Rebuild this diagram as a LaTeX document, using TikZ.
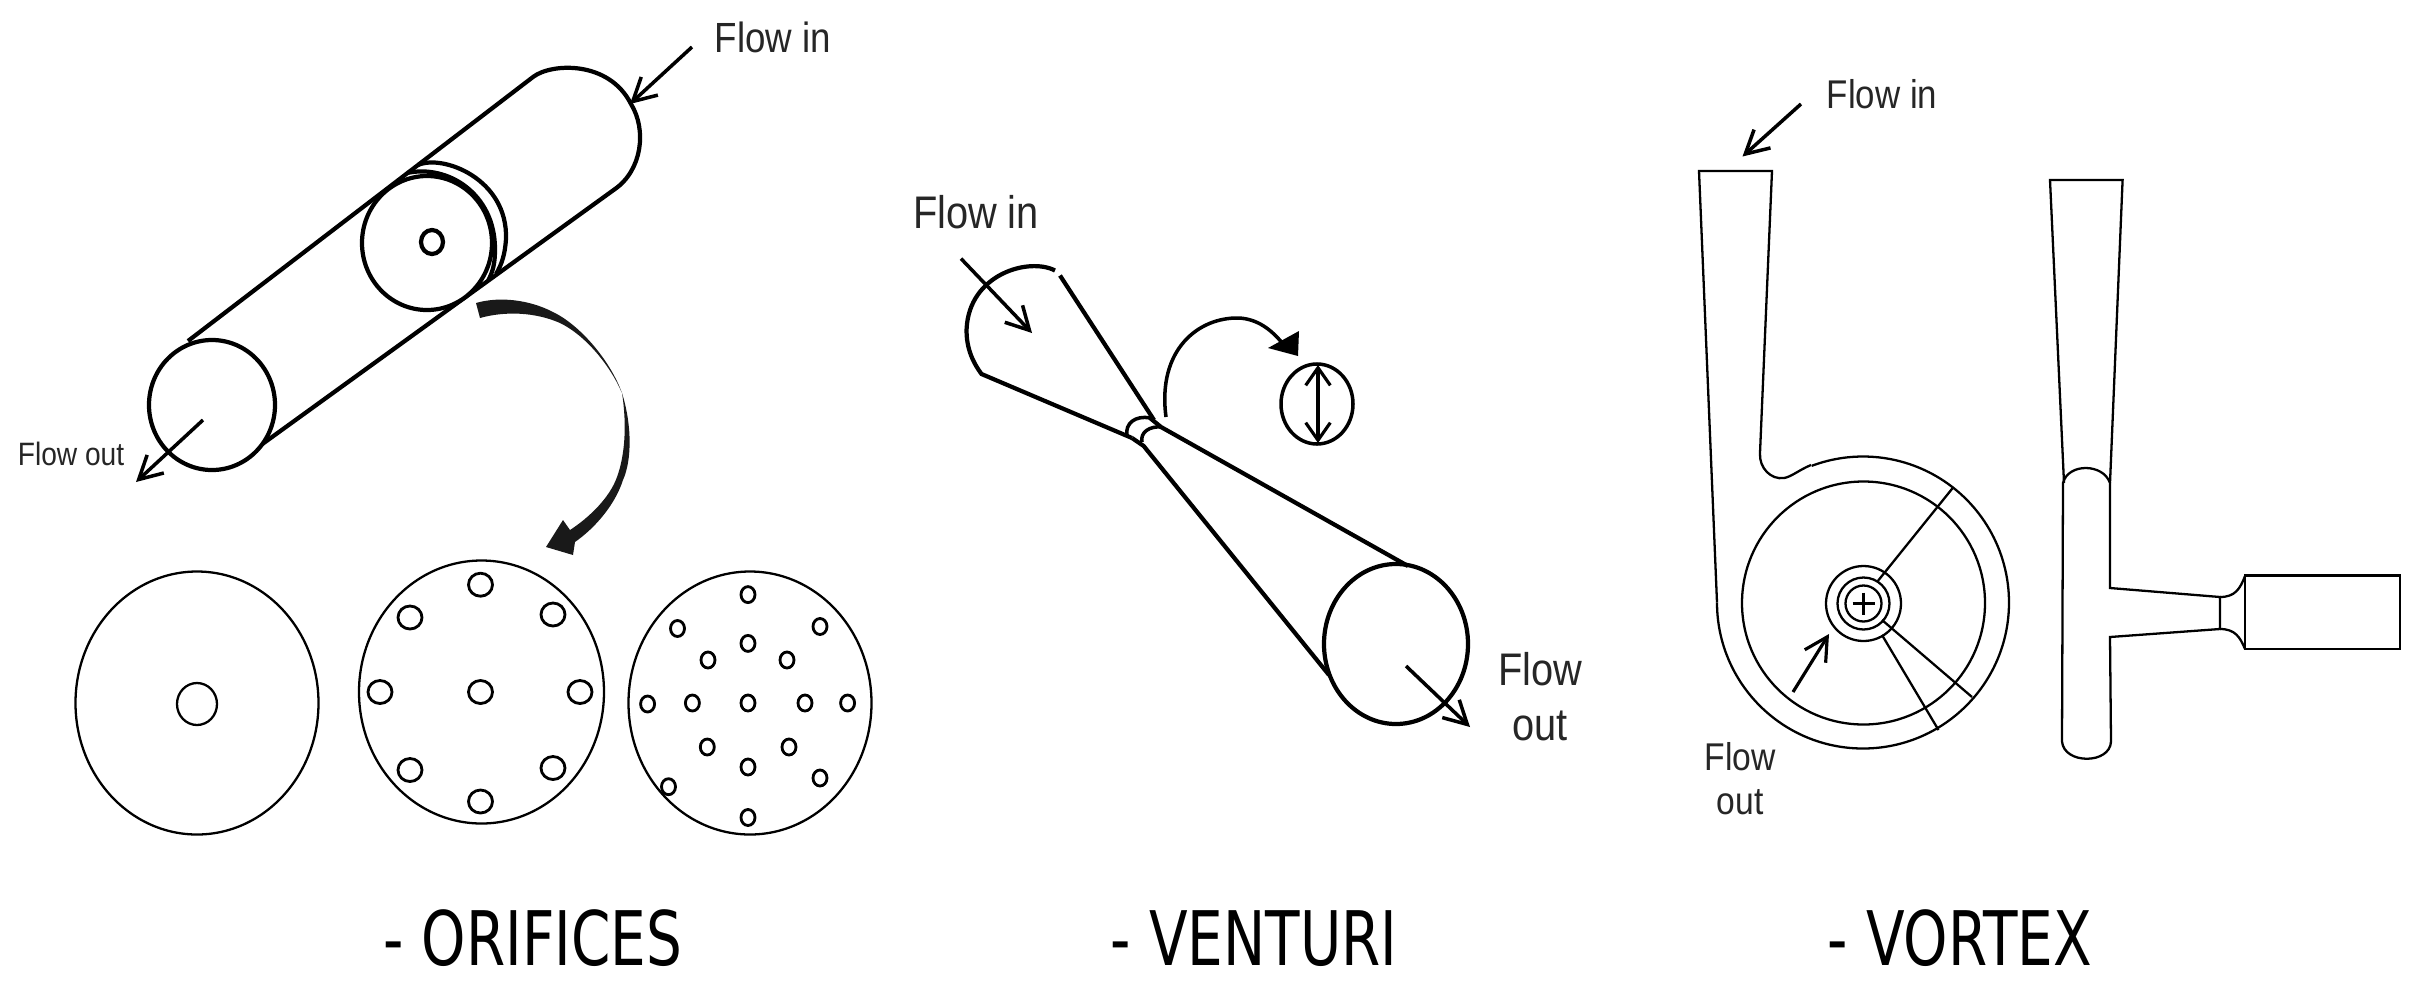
\documentclass[tikz,border=0pt]{standalone}
\usepackage{fontspec}
\setmainfont{Liberation Sans}
\newfontfamily\flowfont[FakeStretch=0.87]{Liberation Sans}
\newfontfamily\titlefont[FakeStretch=0.75]{DejaVu Sans}
\usetikzlibrary{arrows.meta}

\tikzset{
    flowarrow/.style={-{Straight Barb[length=6.5pt,width=7pt]}, line width=1pt},
    flowlabel/.style={inner sep=0pt, align=center, text=black!85},
    capword/.style={inner sep=0pt, anchor=base, font=\titlefont\fontsize{21.4}{24}\selectfont},
    thickline/.style={line width=1.2pt},
    thinline/.style={line width=0.65pt}
}

\begin{document}
\begin{tikzpicture}[x=0.01cm, y=-0.01cm]
    \useasboundingbox (0,0) rectangle (2417,987);

    % Tube with orifice plate
    \begin{scope}[thickline]
        \draw (188,341) -- (533,77) .. controls (551,63) and (609,60) .. (631,104)
            .. controls (647,130) and (642,170) .. (615,189) -- (261,445);
        \draw[fill=white] (212,405) ellipse (63 and 65);
        \draw (418,165) .. controls (443,154) and (508,179) .. (506,239)
            .. controls (505,254) and (502,264) .. (496,274);
        \draw (407,173) .. controls (448,164) and (495,194) .. (495,249)
            .. controls (495,264) and (493,271) .. (488,281);
        \draw[fill=white] (427,243) ellipse (65 and 67);
        \draw (432,242) ellipse (11 and 12);
    \end{scope}

    \coordinate (orfInA) at (692,47);
    \coordinate (orfInB) at (630,104);
    \coordinate (orfOutA) at (203,420);
    \coordinate (orfOutB) at (136,482);
    \draw[flowarrow] (orfInA) -- (orfInB);
    \draw[flowarrow] (orfOutA) -- (orfOutB);
    \node[flowlabel, font=\flowfont\fontsize{12}{14}\selectfont] (orfIn) at (773,37) {Flow in};
    \node[flowlabel, font=\flowfont\fontsize{9.2}{11}\selectfont] (orfOut) at (71,454) {Flow out};

    % Big curved arrow
    \fill[black!90] (476,303) .. controls (500,296) and (530,300) .. (553,312)
        .. controls (580,325) and (610,360) .. (622,393)
        .. controls (632,425) and (632,460) .. (623,480)
        .. controls (615,505) and (595,528) .. (575,542)
        -- (573,555) -- (546,547) -- (563,520) -- (570,530)
        .. controls (590,517) and (610,497) .. (617,477)
        .. controls (625,455) and (627,425) .. (622,393)
        .. controls (610,365) and (585,335) .. (560,323)
        .. controls (535,312) and (505,311) .. (480,318) -- cycle;

    % Plates
    \begin{scope}[thinline]
        \draw (197,703) ellipse (121.5 and 131.5);
        \draw (197,704) ellipse (20 and 21);
        \draw (481.5,692) ellipse (122.5 and 131.5);
        \foreach \hx/\hy in {480.5/584.7,410/617.5,553/614.5,380/692,480.5/692,580/692,410/770,553/768,480.5/801.5} {
            \draw[line width=0.8pt] (\hx,\hy) ellipse (12 and 11.5);
        }
        \draw (750,703) ellipse (121.5 and 131.5);
        \foreach \hx/\hy in {748/594.6,677.5/628.5,820/626.5,748/643.4,708/660,787/660,647.6/704,692.4/703,748/703,805/703,847.6/703,707.3/747,789/747,748/767,820/778,668.5/786.7,748/817.5} {
            \draw[line width=0.8pt] (\hx,\hy) ellipse (7 and 8);
        }
    \end{scope}

    % Venturi
    \begin{scope}[thickline]
        \draw (1055,270.5) .. controls (1029,257) and (969,274) .. (966.6,329)
            .. controls (966,349) and (974,364) .. (981.5,374) -- (1132,438);
        \draw (1060,275.5) -- (1154,420);
        \draw[line width=1pt] (1127,435) .. controls (1125,424) and (1135,415) .. (1150,418);
        \draw[line width=1pt] (1142,442) .. controls (1140,432) and (1150,426) .. (1161,427);
        \draw (1132,438) -- (1143.7,446) -- (1329,675);
        \draw (1150,418) -- (1161,427) -- (1408,566);
        \draw (1396,644) ellipse (72 and 80);
    \end{scope}

    \coordinate (venInA) at (961,258.6);
    \coordinate (venInB) at (1032,333);
    \coordinate (venOutA) at (1406,666);
    \coordinate (venOutB) at (1470,727);
    \draw[flowarrow] (venInA) -- (venInB);
    \draw[flowarrow] (venOutA) -- (venOutB);
    \node[flowlabel, font=\flowfont\fontsize{13}{15}\selectfont] (venIn) at (976,212) {Flow in};
    \node[flowlabel, font=\flowfont\fontsize{13}{15.6}\selectfont] (venOut) at (1540,697) {Flow\\out};

    % Curved arrow to the throat section
    \draw[line width=1pt] (1166,417) .. controls (1157,349) and (1199,317) .. (1239,318)
        .. controls (1257,319) and (1271,329) .. (1283,344);
    \fill (1298,356) -- (1268,348) -- (1299,331) -- cycle;
    \draw[line width=1pt] (1317,404) ellipse (36 and 40);
    \coordinate (venDiaA) at (1318,365);
    \coordinate (venDiaB) at (1318,443);
    \draw[line width=0.9pt, {Straight Barb[length=5pt,width=7pt]}-{Straight Barb[length=5pt,width=7pt]}] (venDiaA) -- (venDiaB);

    % Vortex front view
    \begin{scope}[thinline]
        \draw (1717,602.5) -- (1699,171) -- (1772,171) -- (1760,453)
            .. controls (1759,468) and (1771,480) .. (1784,478)
            .. controls (1791,477) and (1799,470) .. (1811,465);
        \draw (1717,602.5) arc (180:-110.6:146 and 146);
        \draw (1863.5,603) circle (121.5);
        \foreach \r in {37.5,26,18} {
            \draw (1863.5,603.5) circle (\r);
        }
        \draw (1852.5,603.5) -- (1874.5,603.5);
        \draw (1863.5,592.5) -- (1863.5,614.5);
        \draw (1877,582) -- (1953.5,487);
        \draw (1882,620) -- (1972,697);
        \draw (1882,635) -- (1938.5,730);
    \end{scope}

    \coordinate (vorInA) at (1801,104);
    \coordinate (vorInB) at (1742.5,156.5);
    \coordinate (vorOutA) at (1793,692);
    \coordinate (vorOutB) at (1829,634);
    \draw[flowarrow] (vorInA) -- (vorInB);
    \draw[flowarrow, line width=0.9pt] (vorOutA) -- (vorOutB);
    \node[flowlabel, font=\flowfont\fontsize{11.4}{13}\selectfont] (vorIn) at (1882,94) {Flow in};
    \node[flowlabel, font=\flowfont\fontsize{11}{12.5}\selectfont] (vorOut) at (1740,779) {Flow\\out};

    % Vortex side view
    \begin{scope}[thinline]
        \draw (2064,483) -- (2050,180) -- (2122.6,180) -- (2110,483);
        \draw (2063,483) .. controls (2068,463) and (2103,463) .. (2110,483) -- (2110,588) -- (2220,597)
            -- (2220,629) -- (2110,637) -- (2111,741.5)
            .. controls (2110,764.5) and (2064,764.5) .. (2062,741.5) -- cycle;
        \draw (2220,597) .. controls (2235,597) and (2240,589) .. (2245,576);
        \draw (2220,629) .. controls (2235,629) and (2240,637) .. (2245,649);
        \draw (2245,575.5) rectangle (2400,649);
    \end{scope}

    % Captions
    \node[capword] (capOrf) at (533,965) {- ORIFICES};
    \node[capword] (capVen) at (1254,965) {- VENTURI};
    \node[capword] (capVor) at (1960,965) {- VORTEX};
\end{tikzpicture}
\end{document}
